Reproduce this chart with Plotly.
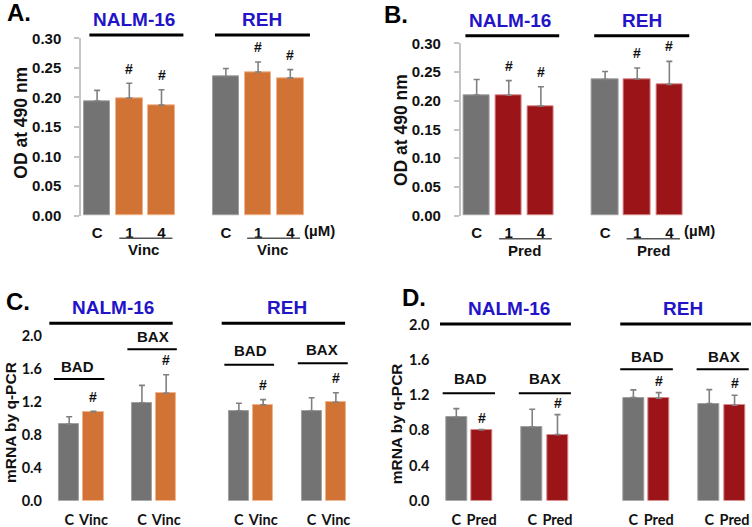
import plotly.graph_objects as go

W, H = 752, 527

# ---------------- data ----------------
# Panel A (Vincristine, OD at 490 nm)
a_pos = [0, 1, 2, 4, 5, 6]
a_labels = ["C", "1", "4", "C", "1", "4"]
a_vals = [0.194, 0.199, 0.187, 0.235, 0.243, 0.233]
a_err = [0.018, 0.025, 0.026, 0.014, 0.017, 0.014]
a_kind = ["ctrl", "drug", "drug", "ctrl", "drug", "drug"]

# Panel B (Prednisolone, OD at 490 nm)
b_pos = [0, 1, 2, 4, 5, 6]
b_labels = ["C", "1", "4", "C", "1", "4"]
b_vals = [0.210, 0.2095, 0.191, 0.237, 0.238, 0.2286]
b_err = [0.027, 0.0255, 0.0335, 0.014, 0.019, 0.040]
b_kind = ["ctrl", "drug", "drug", "ctrl", "drug", "drug"]

# Panel C (Vinc, mRNA by q-PCR): NALM BAD, NALM BAX, REH BAD, REH BAX
c_pos = [0, 1, 3, 4, 7, 8, 10, 11]
c_labels = ["C", "Vinc"] * 4
c_vals = [0.928, 1.081, 1.19, 1.304, 1.093, 1.166, 1.089, 1.195]
c_err = [0.092, 0.005, 0.211, 0.226, 0.090, 0.061, 0.162, 0.116]
c_kind = ["ctrl", "drug"] * 4

# Panel D (Pred, mRNA by q-PCR)
d_pos = [0, 1, 3, 4, 7, 8, 10, 11]
d_labels = ["C", "Pred"] * 4
d_vals = [0.950, 0.805, 0.839, 0.752, 1.173, 1.166, 1.105, 1.087]
d_err = [0.098, 0.005, 0.202, 0.228, 0.088, 0.064, 0.159, 0.113]
d_kind = ["ctrl", "drug"] * 4

a_ticks = [0.00, 0.05, 0.10, 0.15, 0.20, 0.25, 0.30]
c_ticks = [0.0, 0.4, 0.8, 1.2, 1.6, 2.0]

GRAY = "#737373"
ORANGE = "#D07335"
RED = "#9A1418"
BLUE = "#2414C8"
ARIAL = "Liberation Sans, Arial, sans-serif"
CAL = "Lato, Open Sans, sans-serif"

# panel geometry in pixels: x-left, x-right, x-range, y-top, y-bottom, y-range
panels = {
    "A": dict(x0=81, x1=306.4, xr=(-0.5, 6.5), yt=38.3, yb=215.7, yr=(0, 0.30)),
    "B": dict(x0=460.6, x1=685.4, xr=(-0.5, 6.5), yt=43.3, yb=215.7, yr=(0, 0.30)),
    "C": dict(x0=44.95, x1=348, xr=(-1, 11.5), yt=336, yb=500.7, yr=(0, 2.0)),
    "D": dict(x0=432.3, x1=751, xr=(-0.95, 11.65), yt=325, yb=500.7, yr=(0, 2.0)),
}


def xp(p, v):
    g = panels[p]
    px = g["x0"] + (v - g["xr"][0]) / (g["xr"][1] - g["xr"][0]) * (g["x1"] - g["x0"])
    return px / W


def yp(py):
    return 1 - py / H


fig = go.Figure()
shapes = []
annotations = []

axis_ids = {"A": "", "B": "2", "C": "3", "D": "4"}
datasets = {
    "A": (a_pos, a_vals, a_err, a_kind, a_labels, ORANGE),
    "B": (b_pos, b_vals, b_err, b_kind, b_labels, RED),
    "C": (c_pos, c_vals, c_err, c_kind, c_labels, ORANGE),
    "D": (d_pos, d_vals, d_err, d_kind, d_labels, RED),
}
hash_shift = {"A": 14.5, "B": 15, "C": 14.5, "D": 12}

for p, (pos, vals, err, kind, labels, dcol) in datasets.items():
    g = panels[p]
    aid = axis_ids[p]
    cols = [GRAY if k == "ctrl" else dcol for k in kind]
    lcols = ["#a0a0a0" if k == "ctrl" else ("#f2b38a" if dcol == ORANGE else "#d68a8a") for k in kind]
    width = 0.82 if p in "AB" else 0.83
    fig.add_trace(go.Bar(
        x=pos, y=vals, width=width,
        marker=dict(color=cols, line=dict(color=lcols, width=1)),
        error_y=dict(type="data", array=err, arrayminus=[0] * len(err), symmetric=False,
                     color="#808080", thickness=1.6, width=3),
        xaxis="x" + aid, yaxis="y" + aid, showlegend=False, hoverinfo="skip",
    ))
    # significance marks
    for xv, v, e, k in zip(pos, vals, err, kind):
        if k == "drug":
            annotations.append(dict(
                x=xv, y=v + e, xref="x" + aid, yref="y" + aid, text="#",
                showarrow=False, yanchor="middle", yshift=hash_shift[p],
                font=dict(family=ARIAL, size=14, color="#111111", weight="bold")))

    xdom = [g["x0"] / W, g["x1"] / W]
    ydom = [1 - g["yb"] / H, 1 - g["yt"] / H]
    xkey = "xaxis" + aid
    ykey = "yaxis" + aid
    if p in "AB":
        xfont = dict(family=ARIAL, size=15, color="#111111", weight="bold")
        xstand = 6
    else:
        xfont = dict(family=CAL, size=14.5, color="#111111", weight="bold")
        xstand = 9
    fig.update_layout({
        xkey: dict(domain=xdom, range=list(g["xr"]), anchor="y" + aid,
                   tickvals=pos, ticktext=labels, ticks="", showline=False,
                   showgrid=False, zeroline=False, tickfont=xfont, automargin=False,
                   ticklabelstandoff=xstand, fixedrange=True),
    })
    if p in "AB":
        fig.update_layout({ykey: dict(
            domain=ydom, range=list(g["yr"]), anchor="x" + aid,
            tickvals=a_ticks, ticktext=["%.2f" % t for t in a_ticks],
            showline=True, linecolor="#c4c4c4", linewidth=1.5,
            ticks="outside", ticklen=5, tickcolor="#c4c4c4", tickwidth=1.5,
            showgrid=False, zeroline=False, ticklabelstandoff=10, automargin=False,
            tickfont=dict(family=ARIAL, size=15, color="#111111", weight="bold"),
            fixedrange=True)})
    else:
        fig.update_layout({ykey: dict(
            domain=ydom, range=list(g["yr"]), anchor="x" + aid,
            tickvals=c_ticks, ticktext=["%.1f" % t for t in c_ticks],
            showline=False, ticks="", showgrid=False, zeroline=False,
            ticklabelstandoff=2, automargin=False,
            tickfont=dict(family=CAL, size=14.5, color="#111111", weight="bold"),
            fixedrange=True)})


def hline(p, xa, xb, py, width, color="black"):
    shapes.append(dict(type="line", xref="paper", yref="paper",
                       x0=xp(p, xa), x1=xp(p, xb), y0=yp(py), y1=yp(py),
                       line=dict(color=color, width=width)))


def text(p, xv, py, s, size, color="#111111", family=ARIAL, xanchor="center", angle=0, paperx=None):
    annotations.append(dict(
        x=paperx if paperx is not None else xp(p, xv), y=yp(py), xref="paper", yref="paper",
        text=s, showarrow=False, xanchor=xanchor, yanchor="middle", textangle=angle,
        font=dict(family=family, size=size, color=color, weight="bold")))


# panel letters
text(None, 0, 13, "A.", 24, paperx=5 / W, xanchor="left", color="#000000")
text(None, 0, 14, "B.", 24, paperx=382 / W, xanchor="left", color="#000000")
text(None, 0, 301.7, "C.", 24, paperx=4 / W, xanchor="left", color="#000000")
text(None, 0, 297.3, "D.", 24, paperx=400 / W, xanchor="left", color="#000000")

# y titles
text(None, 0, 123, "OD at 490 nm", 17.5, paperx=20.7 / W, angle=-90)
text(None, 0, 130, "OD at 490 nm", 17.5, paperx=401 / W, angle=-90)
text(None, 0, 422.5, "mRNA by q-PCR", 15.5, paperx=10.5 / W, angle=-90)
text(None, 0, 423.3, "mRNA by q-PCR", 15.5, paperx=396 / W, angle=-90)

# ---- Panel A headers ----
text("A", 1.15, 19.3, "NALM-16", 19, BLUE)
text("A", 5.13, 19.3, "REH", 19, BLUE)
hline("A", -0.24, 2.68, 35, 3)
hline("A", 3.66, 6.61, 35, 3)
hline("A", 0.69, 2.34, 238.3, 1.5, "#555555")
hline("A", 4.66, 6.30, 238.3, 1.5, "#555555")
text("A", 1.43, 249.5, "Vinc", 15)
text("A", 5.45, 249.5, "Vinc", 15)
text("A", 6.9, 230, "(µM)", 15)

# ---- Panel B headers ----
text("B", 1.04, 20, "NALM-16", 19, BLUE)
text("B", 5.14, 20, "REH", 19, BLUE)
hline("B", -0.35, 2.57, 35.7, 3)
hline("B", 3.66, 6.62, 35.7, 3)
hline("B", 0.70, 2.34, 238.7, 1.5, "#555555")
hline("B", 4.67, 6.33, 238.7, 1.5, "#555555")
text("B", 1.48, 250, "Pred", 15)
text("B", 5.5, 250, "Pred", 15)
text("B", 6.93, 230, "(µM)", 15)

# ---- Panel C headers ----
text("C", 1.8, 307.7, "NALM-16", 19, BLUE)
text("C", 9.0, 307.7, "REH", 19, BLUE)
hline("C", -0.82, 4.27, 323.3, 3)
hline("C", 6.29, 11.38, 323.3, 3)
text("C", 0.33, 366, "BAD", 15)
hline("C", -0.63, 1.45, 379, 2)
text("C", 3.47, 336, "BAX", 15)
hline("C", 2.40, 4.44, 349.3, 2)
text("C", 7.49, 350, "BAD", 15)
hline("C", 6.40, 8.45, 364.7, 2)
text("C", 10.44, 349, "BAX", 15)
hline("C", 9.43, 11.49, 363.3, 2)

# ---- Panel D headers ----
text("D", 2.09, 308.3, "NALM-16", 19, BLUE)
text("D", 8.95, 308.3, "REH", 19, BLUE)
hline("D", -0.645, 4.53, 324, 3)
hline("D", 6.48, 11.65, 324, 3)
text("D", 0.58, 378.3, "BAD", 15)
hline("D", -0.54, 1.53, 393.3, 2)
text("D", 3.52, 378.3, "BAX", 15)
hline("D", 2.47, 4.53, 393.3, 2)
text("D", 7.54, 356, "BAD", 15)
hline("D", 6.48, 8.56, 369.3, 2)
text("D", 10.6, 356, "BAX", 15)
hline("D", 9.50, 11.56, 369.3, 2)

fig.update_layout(
    width=W, height=H,
    margin=dict(l=0, r=0, t=0, b=0, autoexpand=False),
    paper_bgcolor="white", plot_bgcolor="rgba(0,0,0,0)",
    shapes=shapes, annotations=annotations, bargap=0,
)

fig.write_html("out.html",
               config={"displayModeBar": False},
               post_script="document.body.style.margin='0';document.body.style.overflow='hidden';")
